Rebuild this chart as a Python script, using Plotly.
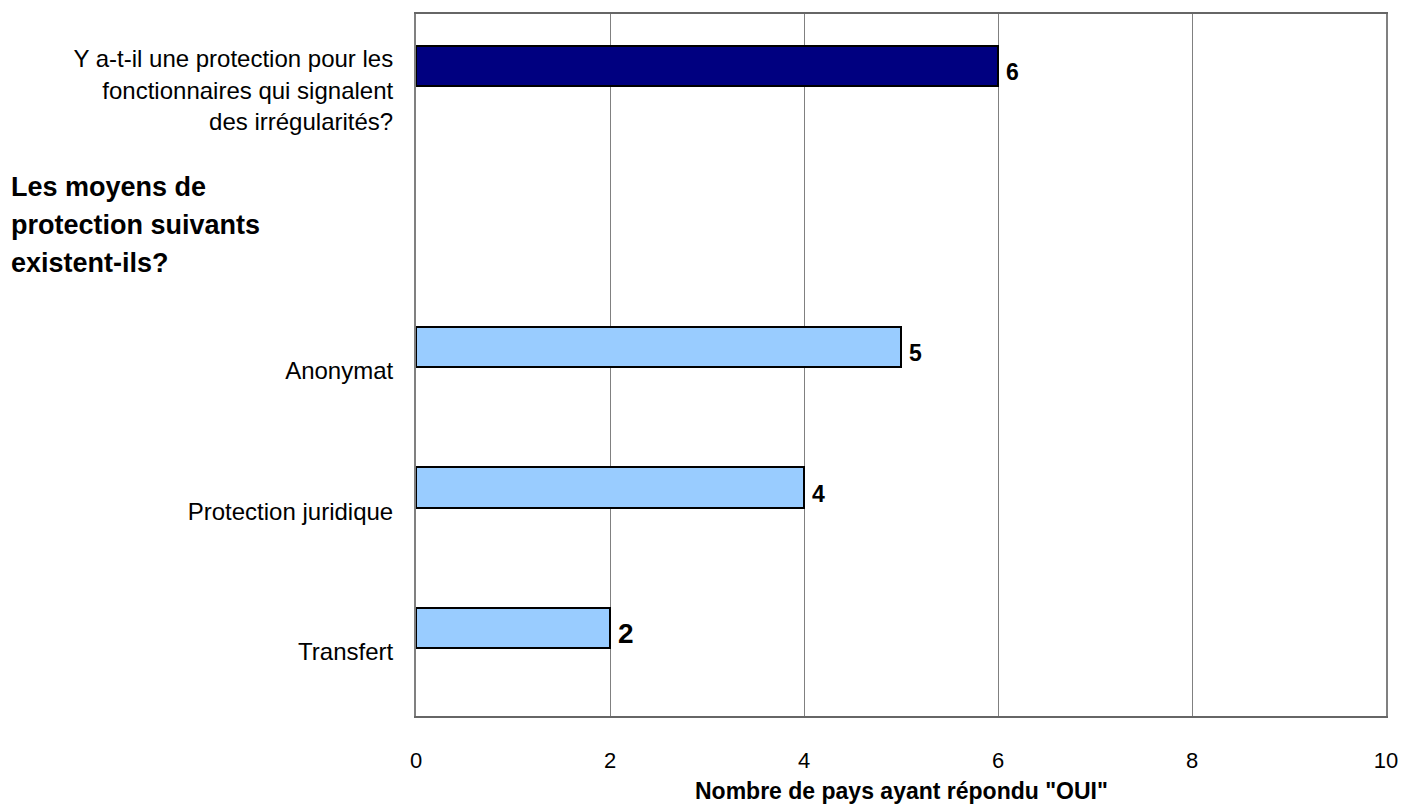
import plotly.graph_objects as go

# Categories (slot 1 holds the section header, no bar)
slots = [0, 2, 3, 4]
labels = [
    "Y a-t-il une protection pour les<br>fonctionnaires qui signalent<br>des irrégularités?",
    "Anonymat",
    "Protection juridique",
    "Transfert",
]
values = [6, 5, 4, 2]
bar_colors = ["#000080", "#99CCFF", "#99CCFF", "#99CCFF"]
label_sizes = [23, 23, 23, 28]
header_lines = ["Les moyens de", "protection suivants", "existent-ils?"]
x_ticks = [0, 2, 4, 6, 8, 10]
x_title = "Nombre de pays ayant répondu \"OUI\""

FONT = "Liberation Sans, Arial, sans-serif"
BAR_W = 0.285
BAR_OFF = -0.27

fig = go.Figure()
fig.add_trace(go.Bar(
    x=values,
    y=slots,
    orientation="h",
    width=BAR_W,
    offset=BAR_OFF,
    marker=dict(color=bar_colors, line=dict(color="#000000", width=2)),
    showlegend=False,
    hoverinfo="skip",
))

# value labels just right of each bar end
for v, s, fs in zip(values, slots, label_sizes):
    fig.add_annotation(
        text=f"<b>{v}</b>",
        x=v, y=s + BAR_OFF + BAR_W / 2,
        xref="x", yref="y",
        xanchor="left", yanchor="middle",
        xshift=6, yshift=-6,
        showarrow=False,
        font=dict(family=FONT, size=fs, color="#000000"),
    )

# section header, one line per annotation for wider line spacing
for i, line in enumerate(header_lines):
    fig.add_annotation(
        text="<b>" + line + "</b>",
        xref="paper", yref="y",
        x=(9 - 416) / 970, y=1,
        xanchor="left", yanchor="middle",
        yshift=(1 - i) * 38,
        align="left", showarrow=False,
        font=dict(family=FONT, size=27, color="#000000"),
    )

# x-axis title, sitting on the bottom edge of the page
fig.add_annotation(
    text="<b>" + x_title + "</b>",
    xref="paper", yref="paper",
    x=0.5, y=-90 / 702,
    xanchor="center", yanchor="bottom",
    showarrow=False,
    font=dict(family=FONT, size=23, color="#000000"),
)

fig.update_layout(
    width=1402, height=806,
    margin=dict(l=416, r=16, t=14, b=90),
    paper_bgcolor="white", plot_bgcolor="white",
    font=dict(family=FONT, color="#000000"),
    bargap=0,
)
fig.update_xaxes(
    range=[0, 10],
    tickvals=x_ticks,
    showgrid=True, gridcolor="#808080", gridwidth=1,
    zeroline=False,
    showline=True, linecolor="#666666", linewidth=2, mirror=True,
    ticks="", ticklabelstandoff=24,
    automargin=False,
    tickfont=dict(family=FONT, size=22, color="#000000"),
)
fig.update_yaxes(
    range=[4.5, -0.5],
    tickvals=slots,
    ticktext=labels,
    showgrid=False, zeroline=False,
    showline=True, linecolor="#808080", linewidth=2, mirror=True,
    ticks="", ticklabelstandoff=16, ticklabelshift=-6,
    automargin=False,
    tickfont=dict(family=FONT, size=24, color="#000000"),
)

fig.write_html("out.html")
